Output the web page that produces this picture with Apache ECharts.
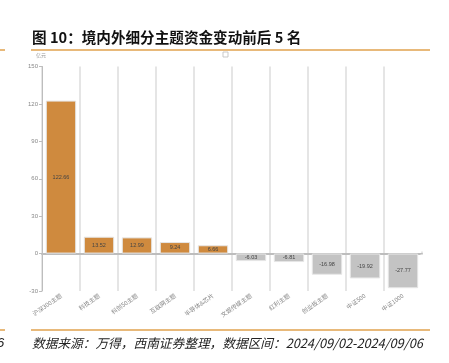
<!DOCTYPE html>
<html><head><meta charset="utf-8">
<script src="https://cdn.jsdelivr.net/npm/echarts@6/dist/echarts.min.js"></script>
<style>html,body{margin:0;padding:0;background:#fff}#c{width:449px;height:363px}</style>
</head><body><div id="c"></div>
<script>
const categories = ['沪深300主题','科技主题','科创50主题','互联网主题','半导体&芯片','文娱传媒主题','红利主题','创业板主题','中证500','中证1000'];
const values = [122.66, 13.52, 12.99, 9.24, 6.66, -6.03, -6.81, -16.98, -19.92, -27.77];
const yTicks = {min: -30, max: 150, interval: 30};
const titleText = '图 10：境内外细分主题资金变动前后 5 名';
const sourceText = '数据来源：万得，西南证券整理，数据区间：2024/09/02-2024/09/06';
const unitText = '亿元';

const chart = echarts.init(document.getElementById('c'), null, {renderer:'canvas'});
chart.setOption({
  animation:false,
  backgroundColor:'#fff',
  grid:{left:42, right:27, top:66.5, bottom:72},
  xAxis:{
    type:'category', data:categories, boundaryGap:true,
    axisLine:{onZero:true, lineStyle:{color:'#bdbdbd', width:2}},
    axisTick:{show:false},
    axisLabel:{rotate:35, fontSize:6, color:'#888', interval:0, margin:4, fontFamily:'Noto Sans CJK SC'},
    splitLine:{show:true, lineStyle:{color:'#dcdcdc', width:1.5}}
  },
  yAxis:{
    type:'value', min:yTicks.min, max:yTicks.max, interval:yTicks.interval,
    axisLine:{show:true, lineStyle:{color:'#bdbdbd', width:1}},
    axisTick:{show:true, length:3, lineStyle:{color:'#bdbdbd'}},
    axisLabel:{fontSize:6, color:'#888', margin:4},
    splitLine:{show:false}
  },
  series:[{
    type:'bar', barCategoryGap:'20%',
    data: values.map(v=>({value:v, itemStyle:{color: v>=0 ? '#CF8A3E' : '#C3C3C3'}})),
    itemStyle:{borderColor:'#e6e6e6', borderWidth:1},
    label:{show:true, position:'inside', fontSize:5.5, color:'#444', formatter:p=>p.value.toFixed(2)}
  }],
  graphic:[
    {type:'line', z:100, shape:{x1:422,y1:60,x2:422,y2:251.5}, style:{stroke:'#fff', lineWidth:3}},
    {type:'line', z:100, shape:{x1:422,y1:254.5,x2:422,y2:296}, style:{stroke:'#fff', lineWidth:3}},
    {type:'text', left:32, top:30, style:{text:titleText, font:'bold 14.6px "Noto Sans CJK SC"', fill:'#111'}},
    {type:'line', shape:{x1:31,y1:50,x2:430,y2:50}, style:{stroke:'#E0A24E', lineWidth:1.5}},
    {type:'line', shape:{x1:0,y1:50,x2:5,y2:50}, style:{stroke:'#E0A24E', lineWidth:1.5}},
    {type:'text', left:36, top:53, style:{text:unitText, font:'5px "Noto Sans CJK SC"', fill:'#999'}},
    {type:'rect', shape:{x:223,y:52,width:5,height:5}, style:{fill:'#fff', stroke:'#bbb', lineWidth:0.8}},
    {type:'line', shape:{x1:31,y1:330,x2:430,y2:330}, style:{stroke:'#E0A24E', lineWidth:1.5}},
    {type:'line', shape:{x1:0,y1:330,x2:5,y2:330}, style:{stroke:'#E0A24E', lineWidth:1.5}},
    {type:'text', left:32, top:337, style:{text:sourceText, font:'italic 12.7px "Noto Sans CJK SC"', fill:'#222'}},
    {type:'text', left:-3, top:337, style:{text:'6', font:'italic 13px "Liberation Sans"', fill:'#222'}}
  ]
});
</script></body></html>
